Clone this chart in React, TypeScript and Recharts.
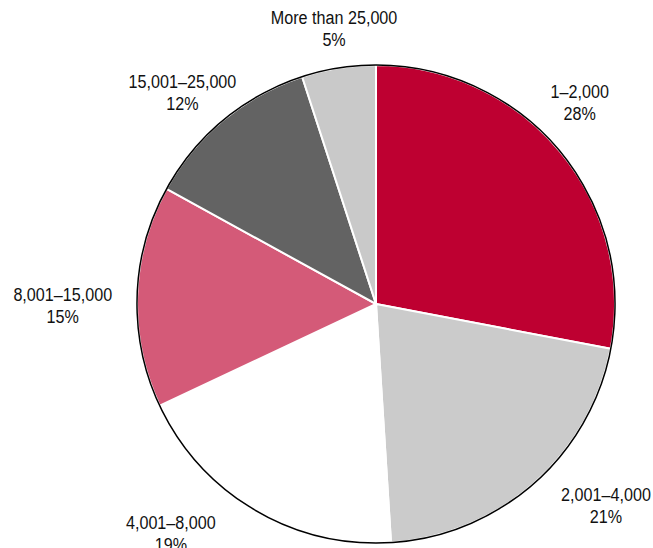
import React from 'react';
import { PieChart, Pie, Cell } from 'recharts';

const categories = ['1–2,000', '2,001–4,000', '4,001–8,000', '8,001–15,000', '15,001–25,000', 'More than 25,000'];
const shares = [28, 21, 19, 15, 12, 5];
const sliceColors = ['#BE0031', '#CBCBCB', '#FFFFFF', '#D45A78', '#636363', '#C9C9C9'];

// small hand tweaks so labels sit where the original put them
const labelNudge = [[-16, -24], [31, -8], [-52, -11], [-8, 10], [4, 3], [8, 0]];

const data = categories.map((name, i) => ({ name, value: shares[i] }));

const FONT = "'Liberation Sans', Arial, sans-serif";
const FONT_SIZE = 19;
const NARROW = 0.85; // squeeze regular sans into an Arial Narrow look
const RADIAN = Math.PI / 180;

let ctx: CanvasRenderingContext2D | null = null;
const textWidth = (s: string) => {
  if (!ctx) ctx = document.createElement('canvas').getContext('2d');
  if (!ctx) return s.length * 8;
  ctx.font = `${FONT_SIZE}px ${FONT}`;
  return ctx.measureText(s).width * NARROW;
};

const renderLabel = (props: any) => {
  const { cx, cy, midAngle, outerRadius, index, name, value } = props;
  const cos = Math.cos(-midAngle * RADIAN);
  const sin = Math.sin(-midAngle * RADIAN);
  const r = outerRadius + 17;
  const w = Math.max(textWidth(name), textWidth(`${value}%`));
  const [nx, ny] = labelNudge[index] || [0, 0];
  const x = cx + r * cos + (cos * w) / 2 + nx;
  const y = cy + r * sin + sin * 23 + ny;
  return (
    <text
      transform={`translate(${x},${y}) scale(${NARROW},1)`}
      textAnchor="middle"
      fontFamily={FONT}
      fontSize={FONT_SIZE}
      fill="#111111"
    >
      <tspan x={0} y={-4.5}>{name}</tspan>
      <tspan x={0} dy={22}>{value}%</tspan>
    </text>
  );
};

export default function App() {
  return (
    <div style={{ position: 'absolute', left: 0, top: 0, width: 653, height: 548, background: '#fff' }}>
      <PieChart width={653} height={548} margin={{ top: 0, right: 0, bottom: 0, left: 0 }}>
        <Pie
          data={data}
          dataKey="value"
          nameKey="name"
          cx={376}
          cy={304}
          outerRadius={239}
          startAngle={90}
          endAngle={-270}
          stroke="#ffffff"
          strokeWidth={2}
          label={renderLabel}
          labelLine={false}
          isAnimationActive={false}
        >
          {data.map((d, i) => (
            <Cell key={d.name} fill={sliceColors[i]} />
          ))}
        </Pie>
        <Pie
          data={[{ name: 'outline', value: 1 }]}
          dataKey="value"
          cx={376}
          cy={304}
          innerRadius={239}
          outerRadius={239}
          startAngle={90}
          endAngle={-270}
          fill="none"
          stroke="#000000"
          strokeWidth={1.5}
          isAnimationActive={false}
        />
      </PieChart>
    </div>
  );
}
